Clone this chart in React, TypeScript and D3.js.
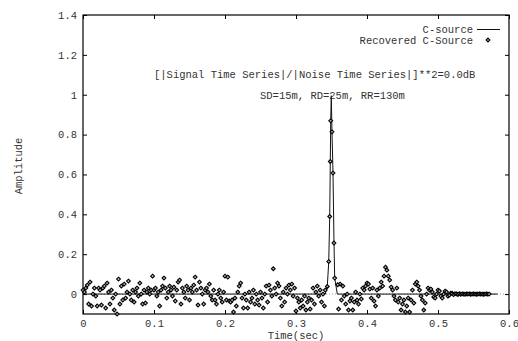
import { useEffect, useRef } from 'react';
import * as d3 from 'd3';

const WIDTH = 518;
const HEIGHT = 341;
const STEP = 0.002;
const FONT = "'Liberation Mono', 'Courier New', monospace";

const xTicks = [0, 0.1, 0.2, 0.3, 0.4, 0.5, 0.6];
const yTicks = [0, 0.2, 0.4, 0.6, 0.8, 1, 1.2, 1.4];

// C-source pulse (time in sec, amplitude)
const sourceTimes = [0, 0.3412, 0.3441, 0.3461, 0.3475, 0.3483, 0.3489, 0.3497, 0.3507, 0.3521, 0.3535, 0.3545, 0.3582, 0.584];
const sourceValues = [0, 0, 0.04, 0.16, 0.39, 0.66, 0.87, 0.995, 0.81, 0.61, 0.26, 0.08, 0, 0];

// Recovered C-Source, one value every STEP from each segment start
const recovered000 = [
  0.02, 0.01, 0.03, 0.045, -0.05, 0.06, -0.06, 0.0, 0.03, -0.01,
  -0.06, 0.03, 0.02, -0.055, 0.03, 0.04, -0.07, 0.055, 0.01, -0.05,
  0.02, -0.02, -0.08, 0.0, -0.1, 0.075, -0.05, 0.04, -0.03, 0.05,
  -0.02, 0.01, 0.065, 0.0, -0.03, 0.02, -0.04, 0.01, 0.03, -0.01,
  0.055, 0.0, -0.05, 0.02, -0.045, 0.01, 0.03, 0.0, 0.02, 0.09,
];
const recovered100 = [
  0.02, 0.03, -0.01, 0.01, -0.06, 0.02, 0.04, 0.08, 0.03, -0.02,
  0.01, 0.04, 0.02, -0.01, 0.035, -0.035, 0.02, 0.06, 0.07, -0.05,
  0.03, 0.01, -0.02, 0.04, 0.02, -0.03, 0.03, 0.01, 0.045, 0.085,
  0.02, -0.055, 0.06, 0.03, 0.0, -0.05, 0.02, 0.03, 0.01, 0.05,
  -0.01, -0.03, 0.02, -0.03, -0.05, 0.0, 0.02, -0.02, -0.04, 0.01,
];
const recovered200 = [
  0.09, -0.03, 0.085, -0.035, -0.04, -0.03, -0.09, -0.02, -0.06, 0.01,
  0.04, 0.055, -0.02, -0.07, 0.0, -0.03, -0.07, 0.01, -0.04, -0.02,
  0.02, -0.05, 0.0, -0.03, -0.055, 0.01, -0.02, -0.07, 0.0, 0.04,
  -0.04, 0.045, 0.02, -0.01, 0.127, 0.03, 0.0, 0.055, 0.04, -0.02,
  -0.06, 0.01, -0.04, 0.03, 0.0, 0.045, 0.02, 0.05, -0.01, 0.03,
];
const recovered300 = [
  -0.085, -0.02, -0.04, -0.07, -0.03, -0.06, -0.01, -0.08, -0.04, -0.02,
  -0.075, -0.03, 0.03, -0.05, 0.01, 0.04, -0.01, 0.02, -0.04, 0.0,
  -0.06,
];
const peakTimes = [0.3412, 0.3441, 0.3461, 0.3475, 0.3483, 0.3489, 0.3507, 0.3521, 0.3535, 0.3545, 0.3587];
const peakValues = [0.02, 0.038, 0.163, 0.389, 0.665, 0.869, 0.814, 0.607, 0.256, 0.08, 0.047];
const recovered360 = [
  -0.075, 0.05, -0.03, 0.04, -0.01, -0.05, 0.0, -0.08, -0.035, -0.02,
  -0.08, -0.04, 0.01, -0.03, -0.05, 0.0, -0.025, 0.03, 0.02, 0.04,
  0.055, 0.05, 0.025, -0.02, 0.03, -0.035, -0.06, 0.02, -0.01, 0.03,
  0.06, 0.04, 0.09, 0.135, 0.12, 0.09, 0.07, 0.035, 0.02, -0.01,
  -0.03, 0.03, -0.04, -0.02, -0.08, -0.05, -0.03, -0.09, -0.06, -0.02,
];
const recovered460 = [
  -0.09, -0.03, 0.02, -0.045, 0.05, 0.06, 0.04, 0.02, -0.01, -0.03,
  -0.08, -0.045, 0.0, 0.03, 0.02, 0.025, 0.01, -0.015, -0.02, 0.0,
  0.02, 0.015, -0.01, -0.02, 0.0, 0.015, 0.01, -0.01, -0.005, 0.005,
  0.004, -0.003, 0.002, 0.001, -0.002, 0.002, -0.001, 0.001, 0.0, -0.001,
  0.001, 0.0, 0.001, -0.001, 0.0, 0.001, 0.0, -0.001, 0.0, 0.001,
  0.0, 0.0, -0.001, 0.0, 0.001, 0.0, 0.0,
];

const segments = [
  { start: 0, values: recovered000 },
  { start: 0.1, values: recovered100 },
  { start: 0.2, values: recovered200 },
  { start: 0.3, values: recovered300 },
  { start: 0.36, values: recovered360 },
  { start: 0.46, values: recovered460 },
];

export default function App() {
  const svgRef = useRef<SVGSVGElement>(null);

  useEffect(() => {
    if (!svgRef.current) return;
    const svg = d3.select(svgRef.current);
    svg.selectAll('*').remove();

    const x = d3.scaleLinear().domain([0, 0.6]).range([83, 509]);
    const y = d3.scaleLinear().domain([-0.1, 1.4]).range([314, 15]);

    const points: [number, number][] = [];
    segments.forEach((seg) => {
      seg.values.forEach((v, i) => points.push([seg.start + i * STEP, v]));
    });
    peakTimes.forEach((t, i) => points.push([t, peakValues[i]]));

    // zero axis
    svg
      .append('line')
      .attr('x1', x(0))
      .attr('x2', x(0.6))
      .attr('y1', y(0))
      .attr('y2', y(0))
      .attr('stroke', '#999')
      .attr('stroke-dasharray', '1,2');

    const styleAxis = (g: d3.Selection<SVGGElement, unknown, null, undefined>) => {
      g.select('.domain').remove();
      g.selectAll('.tick line').attr('stroke', '#000');
      g.selectAll('.tick text')
        .attr('fill', '#333')
        .attr('font-size', 10.5)
        .attr('font-family', FONT);
    };

    svg
      .append('g')
      .attr('transform', `translate(${x(0)},0)`)
      .call(d3.axisLeft(y).tickValues(yTicks).tickSizeInner(-4).tickSizeOuter(0).tickPadding(6).tickFormat((d) => String(d)))
      .call(styleAxis);
    svg
      .append('g')
      .attr('transform', `translate(${x(0.6)},0)`)
      .call(d3.axisRight(y).tickValues(yTicks).tickSizeInner(-4).tickSizeOuter(0).tickFormat(() => ''))
      .call(styleAxis);
    svg
      .append('g')
      .attr('transform', `translate(0,${y(-0.1)})`)
      .call(d3.axisBottom(x).tickValues(xTicks).tickSizeInner(-4).tickSizeOuter(0).tickPadding(6).tickFormat((d) => String(d)))
      .call(styleAxis);
    svg
      .append('g')
      .attr('transform', `translate(0,${y(1.4)})`)
      .call(d3.axisTop(x).tickValues(xTicks).tickSizeInner(-4).tickSizeOuter(0).tickFormat(() => ''))
      .call(styleAxis);

    svg
      .append('rect')
      .attr('x', x(0))
      .attr('y', y(1.4))
      .attr('width', x(0.6) - x(0))
      .attr('height', y(-0.1) - y(1.4))
      .attr('fill', 'none')
      .attr('stroke', '#000')
      .attr('stroke-width', 1.2);

    const line = d3
      .line<number>()
      .x((t) => x(t))
      .y((_, i) => y(sourceValues[i]));

    svg
      .append('path')
      .attr('d', line(sourceTimes))
      .attr('fill', 'none')
      .attr('stroke', '#111')
      .attr('stroke-width', 1);

    const diamond = (cx: number, cy: number, r = 1.9) =>
      `M${cx},${cy - r}L${cx + r},${cy}L${cx},${cy + r}L${cx - r},${cy}Z`;

    svg
      .append('g')
      .selectAll('path')
      .data(points)
      .join('path')
      .attr('d', (d) => diamond(x(d[0]), y(d[1])))
      .attr('fill', '#bbb')
      .attr('stroke', '#000')
      .attr('stroke-width', 1.1);

    const text = (tx: number, ty: number, s: string, anchor = 'start') =>
      svg
        .append('text')
        .attr('x', tx)
        .attr('y', ty)
        .attr('text-anchor', anchor)
        .attr('font-family', FONT)
        .attr('font-size', 10.5)
        .attr('fill', '#333')
        .text(s);

    // legend
    text(473, 32.5, 'C-source', 'end');
    svg.append('line').attr('x1', 477).attr('x2', 500).attr('y1', 29.5).attr('y2', 29.5).attr('stroke', '#111');
    text(473, 43.5, 'Recovered C-Source', 'end');
    svg.append('path').attr('d', diamond(488, 40)).attr('fill', '#bbb').attr('stroke', '#000').attr('stroke-width', 1.1);

    text(154, 78, '[|Signal Time Series|/|Noise Time Series|]**2=0.0dB');
    text(260, 99, 'SD=15m, RD=25m, RR=130m');

    text(296, 339, 'Time(sec)', 'middle');
    text(0, 0, 'Amplitude', 'middle').attr('transform', 'translate(21.5,166) rotate(-90)');
  }, []);

  return (
    <>
      <style>{'body{margin:0}'}</style>
      <svg ref={svgRef} width={WIDTH} height={HEIGHT} style={{ display: 'block', background: '#fff' }} />
    </>
  );
}
